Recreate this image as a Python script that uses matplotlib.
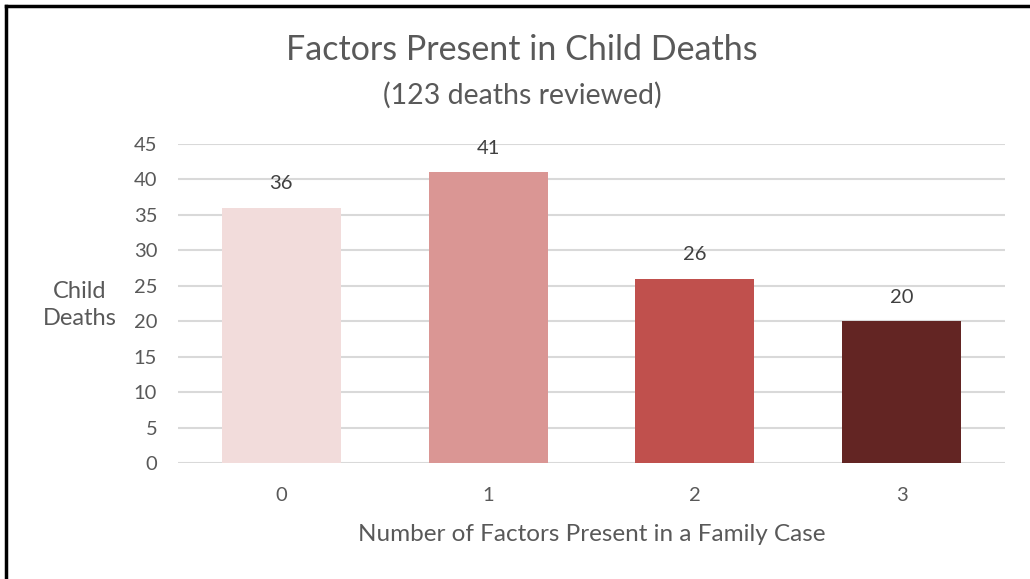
import matplotlib.pyplot as plt

plt.rcParams['font.family'] = ['Lato', 'DejaVu Sans']

# data
factors = ["0", "1", "2", "3"]
deaths = [36, 41, 26, 20]
bar_colors = ["#F2DCDB", "#DA9694", "#C0504D", "#632523"]

grey = "#595959"

fig = plt.figure(figsize=(10.3, 5.79), dpi=100)
ax = fig.add_axes([178 / 1030, 1 - 463 / 579, (1005 - 178) / 1030, (463 - 144) / 579])

x = range(len(factors))
bars = ax.bar(x, deaths, width=0.575, color=bar_colors, zorder=3)
for b, v in zip(bars, deaths):
    ax.text(b.get_x() + b.get_width() / 2, v + 2.2, str(v),
            ha="center", va="bottom", fontsize=14.5, color="#404040")

ax.set_xlim(-0.5, 3.5)
ax.set_ylim(0, 45)
ax.set_yticks(range(0, 46, 5))
ax.set_xticks(list(x))
ax.set_xticklabels(factors)
ax.tick_params(axis="both", length=0, labelsize=14.5, labelcolor=grey)
ax.tick_params(axis="x", pad=17)
ax.tick_params(axis="y", pad=15)
ax.yaxis.grid(True, color="#D9D9D9", linewidth=1.5, zorder=0)
for s in ax.spines.values():
    s.set_visible(False)

ax.set_xlabel("Number of Factors Present in a Family Case", fontsize=17.5,
              color=grey, labelpad=15)
fig.text(80 / 1030, 1 - 305 / 579, "Child\nDeaths", ha="center", va="center",
         multialignment="center", fontsize=17, color=grey, linespacing=1.4)

fig.text(522 / 1030, 1 - 50 / 579, "Factors Present in Child Deaths",
         ha="center", va="center", fontsize=24.5, color=grey)
fig.text(522 / 1030, 1 - 95 / 579, "(123 deaths reviewed)",
         ha="center", va="center", fontsize=20.5, color=grey)

# frame lines on top and left
fig.add_artist(plt.Line2D([6 / 1030, 6 / 1030], [0, 1 - 6 / 579], color="black", lw=2.5))
fig.add_artist(plt.Line2D([6 / 1030, 1], [1 - 6 / 579, 1 - 6 / 579], color="black", lw=2.5))

plt.savefig("out.png", dpi=100, facecolor="white")
